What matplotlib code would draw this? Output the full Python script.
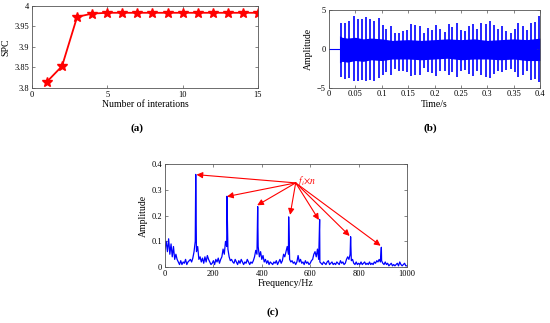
import numpy as np
from matplotlib import pyplot as plt

# (a) SPC по итерациям
iters = [1, 2, 3, 4, 5, 6, 7, 8, 9, 10, 11, 12, 13, 14, 15]
spc = [3.815, 3.853, 3.973, 3.981, 3.983, 3.983, 3.983, 3.983, 3.983,
       3.983, 3.983, 3.983, 3.983, 3.983, 3.983]

# (b) временной сигнал: импульсы и шумовая полоса
imp_t = [0.023, 0.031, 0.039, 0.047, 0.055, 0.062, 0.070, 0.078, 0.086, 0.094,
         0.102, 0.109, 0.117, 0.125, 0.133, 0.141, 0.148, 0.156, 0.164, 0.172,
         0.180, 0.187, 0.195, 0.203, 0.211, 0.219, 0.227, 0.234, 0.242, 0.250,
         0.258, 0.266, 0.273, 0.281, 0.289, 0.297, 0.305, 0.312, 0.320, 0.328,
         0.336, 0.344, 0.352, 0.359, 0.367, 0.375, 0.383, 0.391, 0.398]
imp_pos = [3.3, 3.4, 3.6, 4.3, 3.9, 3.8, 4.1, 3.9, 3.6, 4.0,
           3.1, 2.6, 3.0, 2.0, 2.1, 2.3, 2.4, 3.2, 3.1, 2.9,
           2.0, 2.7, 2.4, 3.1, 2.6, 2.2, 3.2, 2.8, 3.3, 2.4,
           2.3, 3.0, 3.2, 2.6, 3.3, 3.2, 3.6, 3.1, 2.6, 2.9,
           2.3, 2.1, 2.6, 3.4, 3.0, 2.5, 3.3, 3.5, 4.3]
imp_neg = [-3.6, -3.9, -3.8, -4.1, -4.2, -4.0, -4.2, -4.0, -4.2, -3.8,
           -3.4, -3.0, -3.3, -2.6, -2.9, -2.8, -3.0, -3.5, -3.3, -3.4,
           -2.5, -3.0, -3.1, -3.5, -2.9, -2.8, -3.4, -3.0, -3.6, -2.8,
           -2.7, -3.2, -3.5, -2.9, -3.3, -3.6, -3.8, -3.2, -2.8, -3.0,
           -2.7, -2.6, -3.0, -3.6, -3.3, -2.9, -4.0, -3.9, -4.3]
band_t = [0.020, 0.025, 0.035, 0.05, 0.065, 0.08, 0.10, 0.12, 0.15, 0.175,
          0.20, 0.225, 0.25, 0.275, 0.30, 0.325, 0.35, 0.375, 0.40]
band_hi = [1.7, 1.5, 1.4, 1.5, 1.3, 1.4, 1.3, 1.1, 1.2, 1.1,
           1.2, 1.3, 1.2, 1.3, 1.1, 1.2, 1.3, 1.2, 1.4]
band_lo = [-1.8, -1.6, -1.7, -1.5, -1.6, -1.4, -1.5, -1.3, -1.3, -1.4,
           -1.3, -1.2, -1.4, -1.3, -1.3, -1.4, -1.3, -1.5, -1.5]

# (c) спектр: шумовой фон через 5 Гц + пики гармоник
freq_step = 5
noise = [0.07, 0.10, 0.06, 0.11, 0.05, 0.09, 0.04, 0.08, 0.03, 0.05,
         0.03, 0.02, 0.01, 0.025, 0.01, 0.02, 0.015, 0.03, 0.01, 0.02,
         0.025, 0.03, 0.02, 0.035, 0.06, 0.10, 0.06, 0.08, 0.03, 0.04,
         0.02, 0.035, 0.015, 0.04, 0.02, 0.045, 0.03, 0.02, 0.01, 0.015,
         0.025, 0.01, 0.03, 0.02, 0.035, 0.015, 0.03, 0.04, 0.07, 0.05,
         0.10, 0.08, 0.07, 0.04, 0.025, 0.03, 0.02, 0.015, 0.03, 0.02,
         0.01, 0.025, 0.015, 0.03, 0.02, 0.01, 0.02, 0.015, 0.03, 0.02,
         0.01, 0.02, 0.015, 0.025, 0.04, 0.065, 0.05, 0.08, 0.04, 0.06,
         0.03, 0.045, 0.02, 0.03, 0.015, 0.025, 0.01, 0.02, 0.015, 0.01,
         0.02, 0.015, 0.025, 0.01, 0.02, 0.03, 0.015, 0.025, 0.05, 0.04,
         0.06, 0.08, 0.05, 0.03, 0.02, 0.025, 0.015, 0.02, 0.01, 0.02,
         0.045, 0.02, 0.03, 0.015, 0.02, 0.01, 0.025, 0.015, 0.02, 0.01,
         0.015, 0.025, 0.03, 0.05, 0.06, 0.04, 0.07, 0.03, 0.02, 0.015,
         0.01, 0.02, 0.015, 0.01, 0.02, 0.025, 0.01, 0.015, 0.02, 0.01,
         0.015, 0.01, 0.02, 0.015, 0.01, 0.025, 0.015, 0.02, 0.01, 0.015,
         0.03, 0.04, 0.03, 0.05, 0.025, 0.03, 0.015, 0.01, 0.02, 0.01,
         0.015, 0.01, 0.02, 0.01, 0.015, 0.02, 0.01, 0.015, 0.01, 0.02,
         0.01, 0.015, 0.01, 0.02, 0.015, 0.025, 0.02, 0.03, 0.02, 0.025,
         0.015, 0.01, 0.02, 0.01, 0.015, 0.005, 0.01, 0.015, 0.005, 0.01,
         0.005, 0.01, 0.015, 0.005, 0.02, 0.01, 0.005, 0.01, 0.015, 0.005, 0.005]
peak_f = [127, 256, 383, 511, 639, 767, 894]
peak_a = [0.36, 0.275, 0.235, 0.195, 0.185, 0.118, 0.077]
arrow_tip = [(130, 0.359), (256, 0.274), (381, 0.240), (517, 0.203),
             (636, 0.183), (763, 0.121), (891, 0.083)]

plt.rcParams['font.family'] = ['Liberation Serif', 'DejaVu Serif']
plt.rcParams['mathtext.fontset'] = 'stix'
frame_c = '#555555'


def style_axes(ax):
    for s in ax.spines.values():
        s.set_color(frame_c)
        s.set_linewidth(0.6)
    ax.tick_params(direction='in', top=True, right=True, length=2.5, width=0.5,
                   color=frame_c, labelsize=6, pad=2)


fig = plt.figure(figsize=(5.5, 3.23), dpi=100)

# ---- (a)
ax1 = fig.add_axes([0.058, 0.728, 0.411, 0.254])
ax1.plot(iters, spc, color='red', lw=1.3, marker='*', ms=7)
ax1.set_xlim(0, 15)
ax1.set_ylim(3.8, 4)
ax1.set_xticks([0, 5, 10, 15])
ax1.set_yticks([3.8, 3.85, 3.9, 3.95, 4])
ax1.set_yticklabels(['3.8', '3.85', '3.9', '3.95', '4'])
ax1.set_xlabel('Number of interations', fontsize=7, labelpad=1)
ax1.set_ylabel('SPC', fontsize=7, labelpad=3)
style_axes(ax1)
fig.text(137 / 550, 1 - 128 / 323, '(a)', fontsize=8, fontweight='bold', ha='center', va='center')

# ---- (b)
ax2 = fig.add_axes([0.598, 0.7285, 0.384, 0.240])
ax2.plot([0, 0.02], [0, 0], color='blue', lw=0.8)
ax2.fill_between(band_t, band_lo, band_hi, color='blue', lw=0)
ax2.vlines(imp_t, imp_neg, imp_pos, color='blue', lw=1.2)
ax2.set_xlim(0, 0.4)
ax2.set_ylim(-5, 5)
ax2.set_xticks([0, 0.05, 0.1, 0.15, 0.2, 0.25, 0.3, 0.35, 0.4])
ax2.set_xticklabels(['0', '0.05', '0.1', '0.15', '0.2', '0.25', '0.3', '0.35', '0.4'])
ax2.set_yticks([-5, 0, 5])
ax2.set_xlabel('Time/s', fontsize=7, labelpad=1)
ax2.set_ylabel('Amplitude', fontsize=7, labelpad=3)
style_axes(ax2)
fig.text(430 / 550, 1 - 128 / 323, '(b)', fontsize=8, fontweight='bold', ha='center', va='center')

# ---- (c)
base_f = np.arange(len(noise)) * freq_step
f_all = np.concatenate([base_f, peak_f])
a_all = np.concatenate([noise, peak_a])
order = np.argsort(f_all)
ax3 = fig.add_axes([0.300, 0.173, 0.440, 0.319])
ax3.plot(f_all[order], a_all[order], color='blue', lw=0.9)
for tip in arrow_tip:
    ax3.annotate('', xy=tip, xytext=(540, 0.327),
                 arrowprops=dict(arrowstyle='-|>', color='red', lw=0.8,
                                 mutation_scale=9, shrinkA=0, shrinkB=0))
ax3.text(546, 0.336, r'$f_i{\times}n$', color='red', fontsize=7, va='center', ha='left')
ax3.set_xlim(0, 1000)
ax3.set_ylim(0, 0.4)
ax3.set_xticks([0, 200, 400, 600, 800, 1000])
ax3.set_yticks([0, 0.1, 0.2, 0.3, 0.4])
ax3.set_yticklabels(['0', '0.1', '0.2', '0.3', '0.4'])
ax3.set_xlabel('Frequency/Hz', fontsize=7, labelpad=1)
ax3.set_ylabel('Amplitude', fontsize=7, labelpad=3)
style_axes(ax3)
fig.text(273 / 550, 1 - 312 / 323, '(c)', fontsize=8, fontweight='bold', ha='center', va='center')

fig.savefig('out.png', dpi=100)
